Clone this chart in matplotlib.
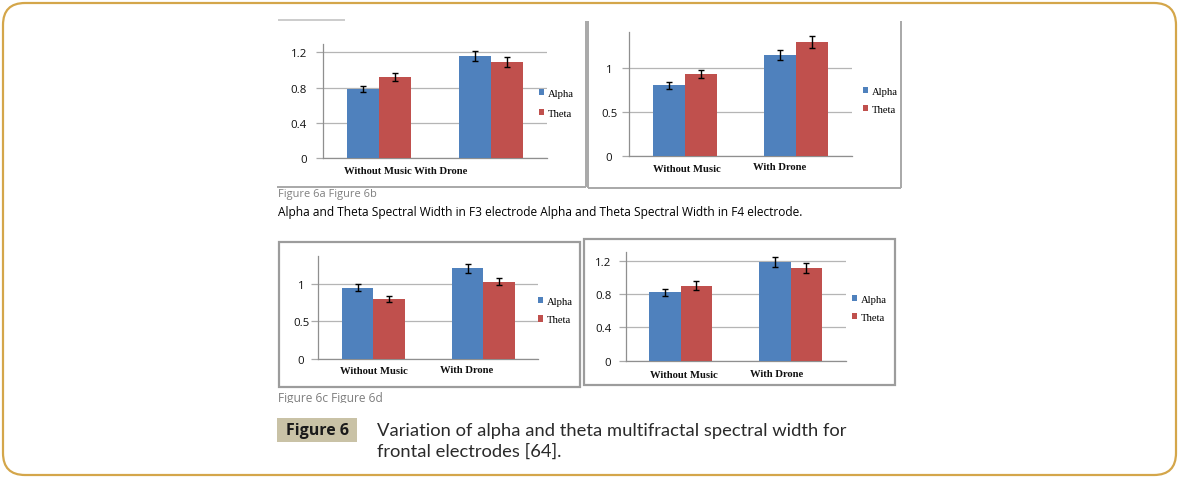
import numpy as np
import matplotlib
matplotlib.use("Agg")
import matplotlib.pyplot as plt
from matplotlib.lines import Line2D
from matplotlib.patches import Rectangle, FancyBboxPatch
from matplotlib.transforms import IdentityTransform

# ---------------- data ----------------
categories = ['Without Music', 'With Drone']
series_names = ['Alpha', 'Theta']

f3_alpha = [0.785, 1.155]
f3_alpha_err = [0.038, 0.057]
f3_theta = [0.924, 1.094]
f3_theta_err = [0.047, 0.057]

f4_alpha = [0.803, 1.144]
f4_alpha_err = [0.040, 0.060]
f4_theta = [0.928, 1.292]
f4_theta_err = [0.049, 0.064]

c_alpha = [0.947, 1.209]
c_alpha_err = [0.047, 0.062]
c_theta = [0.796, 1.031]
c_theta_err = [0.040, 0.051]

d_alpha = [0.821, 1.181]
d_alpha_err = [0.044, 0.060]
d_theta = [0.900, 1.113]
d_theta_err = [0.050, 0.058]

ticks_04 = [0, 0.4, 0.8, 1.2]
ticks_04_labels = ['0', '0.4', '0.8', '1.2']
ticks_05 = [0, 0.5, 1]
ticks_05_labels = ['0', '0.5', '1']

sub_caption_1 = 'Figure 6a Figure 6b'
sub_caption_2 = 'Alpha and Theta Spectral Width in F3 electrode Alpha and Theta Spectral Width in F4 electrode.'
sub_caption_3 = 'Figure 6c Figure 6d'
fig_label = 'Figure 6'
caption_1 = 'Variation of alpha and theta multifractal spectral width for'
caption_2 = 'frontal electrodes [64].'

# ---------------- layout helpers ----------------
W, H = 1182, 481
fig = plt.figure(figsize=(W / 100, H / 100), dpi=100)
fig.patch.set_facecolor('white')


def fr(x0, y0, x1, y1):
    return [x0 / W, 1 - y1 / H, (x1 - x0) / W, (y1 - y0) / H]


def fx(x):
    return x / W


def fy(y):
    return 1 - y / H


def pline(xs, ys, color, lw, z=1):
    fig.add_artist(Line2D([fx(x) for x in xs], [fy(y) for y in ys],
                          transform=fig.transFigure, color=color, lw=lw,
                          zorder=z, solid_capstyle='butt'))


renderer = fig.canvas.get_renderer()


def fit_text(x, y, s, target_w, fs=10, **kw):
    t = fig.text(fx(x), fy(y), s, fontsize=fs, **kw)
    w = t.get_window_extent(renderer).width
    t.set_fontsize(fs * target_w / w)
    return t


BLUE = '#4F81BD'
RED = '#C0504D'
SERIF = 'Liberation Serif'
SANS = 'Open Sans'

panels = [
    dict(rect=(323, 45, 547, 159.3), ylim=1.294, a=f3_alpha, ae=f3_alpha_err,
         t=f3_theta, te=f3_theta_err, ticks=ticks_04, tl=ticks_04_labels,
         ha='right', pad=6.5, leg=(539, 92.7, 116), lsp=1.06,
         xl=[('joined', 344, 171)]),
    dict(rect=(629.3, 33.3, 851.7, 156.7), ylim=1.402, a=f4_alpha, ae=f4_alpha_err,
         t=f4_theta, te=f4_theta_err, ticks=ticks_05, tl=ticks_05_labels,
         ha='center', pad=9.6, leg=(863, 91, 111.7), lsp=0.81,
         xl=[(0, 687, 169.3), (1, 780, 168)]),
    dict(rect=(318.3, 256.7, 538.3, 360), ylim=1.377, a=c_alpha, ae=c_alpha_err,
         t=c_theta, te=c_theta_err, ticks=ticks_05, tl=ticks_05_labels,
         ha='center', pad=7.4, leg=(538, 301, 322.3), lsp=0.87,
         xl=[(0, 374, 371.7), (1, 467, 370.7)]),
    dict(rect=(625.7, 253.3, 845.7, 361.7), ylim=1.30, a=d_alpha, ae=d_alpha_err,
         t=d_theta, te=d_theta_err, ticks=ticks_04, tl=ticks_04_labels,
         ha='right', pad=5.3, leg=(851.7, 299, 320), lsp=0.84,
         xl=[(0, 684, 375.7), (1, 776.7, 374.3)]),
]

bw = 0.285
x = np.arange(len(categories))
for p in panels:
    ax = fig.add_axes(fr(*p['rect']))
    ax.set_facecolor('none')
    ekw = dict(elinewidth=1.0, capthick=1.0, ecolor='black')
    b1 = ax.bar(x - bw / 2, p['a'], bw, color=BLUE, yerr=p['ae'], capsize=2,
                error_kw=ekw, zorder=3, label=series_names[0])
    b2 = ax.bar(x + bw / 2, p['t'], bw, color=RED, yerr=p['te'], capsize=2,
                error_kw=ekw, zorder=3, label=series_names[1])
    ax.set_xlim(-0.5, 1.5)
    ax.set_ylim(0, p['ylim'])
    ax.set_yticks(p['ticks'])
    ax.set_yticklabels(p['tl'], fontfamily=SANS, fontsize=8.2, ha=p['ha'],
                       color='#111111')
    ax.tick_params(axis='y', length=5, width=0.9, color='#aaaaaa',
                   direction='out', pad=p['pad'])
    ax.tick_params(axis='x', bottom=False, labelbottom=False)
    ax.yaxis.grid(True, color='#b5b5b5', lw=0.9, zorder=0)
    ax.set_axisbelow(True)
    for s in ['top', 'right']:
        ax.spines[s].set_visible(False)
    for s in ['left', 'bottom']:
        ax.spines[s].set_color('#8f8f8f')
        ax.spines[s].set_linewidth(0.9)

    lx, ly1, ly2 = p['leg']
    leg = ax.legend(handles=[b1, b2], loc='center left',
                    bbox_to_anchor=(fx(lx), fy((ly1 + ly2) / 2)),
                    bbox_transform=fig.transFigure, frameon=True,
                    facecolor='white', edgecolor='none', framealpha=1,
                    borderpad=0, borderaxespad=0, handlelength=0.5,
                    handleheight=0.5, handletextpad=0.35,
                    labelspacing=p['lsp'],
                    prop=dict(family=SERIF, size=7.7))
    leg.set_zorder(5)

    for idx, cx, cy in p['xl']:
        if idx == 'joined':
            fig.text(fx(cx), fy(cy), ' '.join(categories), ha='left', va='center',
                     fontfamily=SERIF, fontweight='bold', fontsize=7.7,
                     color='#111111')
        else:
            fig.text(fx(cx), fy(cy), categories[idx], ha='center', va='center',
                     fontfamily=SERIF, fontweight='bold', fontsize=7.7,
                     color='#111111')

# ---------------- panel borders ----------------
LG = '#a8a8a8'
# panel a
pline([278, 345], [21, 21], '#c4c4c4', 1.2)
pline([585.5, 585.5], [22, 188], LG, 1.4)
pline([277, 585.5], [188, 188], LG, 1.4)
# panel b
pline([588, 588], [22, 188.5], LG, 1.4)
pline([901, 901], [22, 188.5], LG, 1.4)
pline([588, 901], [188.5, 188.5], LG, 1.4)
# panel c and d (boxed)
BG = '#9c9c9c'
for (x0, y0, x1, y1) in [(278.5, 243.5, 579.5, 388), (584, 240, 895, 386)]:
    fig.add_artist(Rectangle((fx(x0), fy(y1)), fx(x1) - fx(x0), fy(y0) - fy(y1),
                             transform=fig.transFigure, fill=False,
                             edgecolor=BG, lw=1.6, zorder=1))

# ---------------- captions ----------------
fit_text(278, 195, sub_caption_1, 98, fs=8, fontfamily=SANS, color='#7f7f7f',
         ha='left', va='center')
fit_text(278, 213, sub_caption_2, 528, fs=8, fontfamily=SANS, color='black',
         ha='left', va='center')
t3 = fit_text(278, 399, sub_caption_3, 106, fs=8, fontfamily=SANS, color='#7f7f7f',
              ha='left', va='center')
# lower part of the last sub-caption is cut off in the original
fig.add_artist(Rectangle((fx(274), fy(409)), fx(400) - fx(274), fy(403.5) - fy(409),
                         transform=fig.transFigure, facecolor='white',
                         edgecolor='none', zorder=6))

fig.add_artist(Rectangle((fx(277), fy(443)), fx(357) - fx(277), fy(419) - fy(443),
                         transform=fig.transFigure, facecolor='#C9C2A6',
                         edgecolor='none', zorder=1))
fit_text(317, 431, fig_label, 63, fs=11, fontfamily=SANS, fontweight='bold',
         color='#1a1a1a', ha='center', va='center')
c1 = fit_text(377, 431, caption_1, 468, fs=12, fontfamily='Lato', color='#2a2a2a',
              ha='left', va='center')
fig.text(fx(377), fy(452), caption_2, fontsize=c1.get_fontsize(), fontfamily='Lato',
         color='#2a2a2a', ha='left', va='center')

# ---------------- outer rounded frame ----------------
frame = FancyBboxPatch((3, H - 476), 1173, 472,
                       boxstyle='round,pad=0,rounding_size=22',
                       transform=IdentityTransform(), fill=False,
                       edgecolor='#D4A64A', lw=1.6, zorder=0)
fig.add_artist(frame)

fig.savefig('out.png', dpi=100, facecolor='white')
